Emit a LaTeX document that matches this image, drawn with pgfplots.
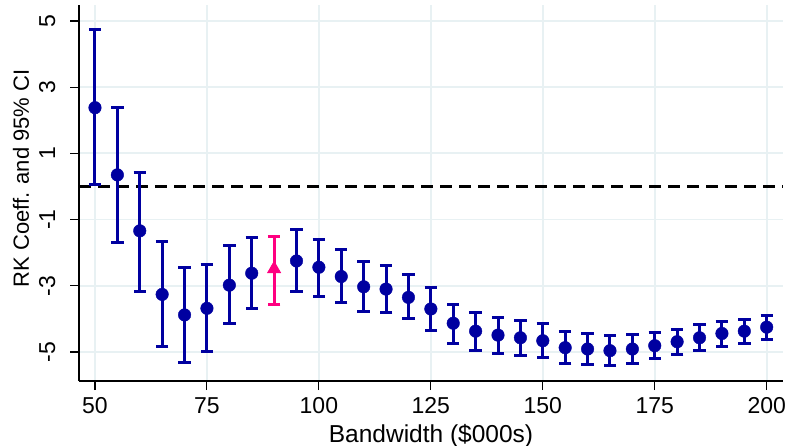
\documentclass[border=0pt]{standalone}
\usepackage{fontspec}
\setmainfont{Liberation Sans}
\usepackage{pgfplots}
\pgfplotsset{compat=1.18}
\usepackage{pgfplotstable}
\definecolor{sblue}{RGB}{0,0,160}
\definecolor{spink}{RGB}{255,0,128}
\definecolor{sgrid}{RGB}{232,241,243}

\pgfplotstableread{
x y hi lo
50 2.38 4.73 0.07
55 0.35 2.38 -1.70
60 -1.34 0.43 -3.16
65 -3.26 -1.67 -4.84
70 -3.88 -2.44 -5.32
75 -3.68 -2.37 -4.97
80 -2.98 -1.77 -4.15
85 -2.62 -1.53 -3.70
95 -2.25 -1.31 -3.16
100 -2.44 -1.59 -3.31
105 -2.72 -1.90 -3.51
110 -3.03 -2.27 -3.78
115 -3.10 -2.38 -3.81
120 -3.35 -2.65 -4.00
125 -3.70 -3.05 -4.34
130 -4.13 -3.55 -4.74
135 -4.37 -3.80 -4.94
140 -4.49 -3.95 -5.06
145 -4.57 -4.05 -5.11
150 -4.66 -4.15 -5.16
155 -4.87 -4.39 -5.34
160 -4.91 -4.44 -5.37
165 -4.96 -4.51 -5.41
170 -4.91 -4.47 -5.34
175 -4.81 -4.41 -5.21
180 -4.69 -4.31 -5.09
185 -4.57 -4.18 -4.96
190 -4.44 -4.08 -4.82
195 -4.37 -4.01 -4.74
200 -4.25 -3.90 -4.61
}\bluedata

\pgfplotstableread{
x y hi lo
90 -2.49 -1.52 -3.55
}\pinkdata

\begin{document}
\begin{tikzpicture}
\begin{axis}[
  scale only axis,
  width=704bp, height=376bp,
  xmin=46.43, xmax=203.64, ymin=-5.876, ymax=5.483,
  axis x line*=bottom, axis y line*=left,
  axis line style={black, line width=1.2bp},
  xtick={50,75,...,200}, ytick={-5,-3,...,5},
  grid=major, major grid style={sgrid, line width=1.8bp},
  tick align=outside, major tick length=9bp,
  tick style={black, line width=1.1bp},
  /pgf/number format/assume math mode=true,
  ticklabel style={font=\fontsize{23bp}{23bp}\selectfont},
  xticklabel style={anchor=base, inner sep=0pt, yshift=-23bp},
  yticklabel style={xshift=-15bp, rotate=90, anchor=base, inner sep=0pt},
  xlabel style={at={(axis description cs:0.5,0)}, anchor=base, inner sep=0pt, yshift=-61bp,
    font=\fontsize{24.5bp}{24.5bp}\selectfont},
  ylabel style={at={(axis description cs:-0.0711,0.5386)}, anchor=base, inner sep=0pt,
    font=\fontsize{22bp}{22bp}\selectfont},
  xlabel={Bandwidth (\$000s)},
  ylabel={RK Coeff. and 95\% CI},
  clip=false,
]
\addplot[black, line width=2.6bp, dash pattern=on 12bp off 7bp] coordinates {(46.43,0) (203.64,0)};
\addplot[sblue, only marks, mark=*, mark size=6.3bp,
  error bars/.cd, y dir=both, y explicit,
  error bar style={line width=3bp, sblue},
  error mark options={sblue, line width=3bp, mark size=6.2bp, rotate=90}]
  table[x=x, y=y, y error plus expr=\thisrow{hi}-\thisrow{y}, y error minus expr=\thisrow{y}-\thisrow{lo}] {\bluedata};
\addplot[spink, only marks, mark=triangle*, mark size=7.4bp, mark options={line width=0.8bp},
  error bars/.cd, y dir=both, y explicit,
  error bar style={line width=3bp, spink},
  error mark options={spink, line width=3bp, mark size=6.2bp, rotate=90}]
  table[x=x, y=y, y error plus expr=\thisrow{hi}-\thisrow{y}, y error minus expr=\thisrow{y}-\thisrow{lo}] {\pinkdata};
\coordinate (ll) at (rel axis cs:0,0);
\coordinate (ur) at (rel axis cs:1,1);
\end{axis}
\pgfresetboundingbox
\path ([shift={(-79bp,-65bp)}]ll) rectangle ([shift={(6bp,5bp)}]ur);
\end{tikzpicture}
\end{document}
